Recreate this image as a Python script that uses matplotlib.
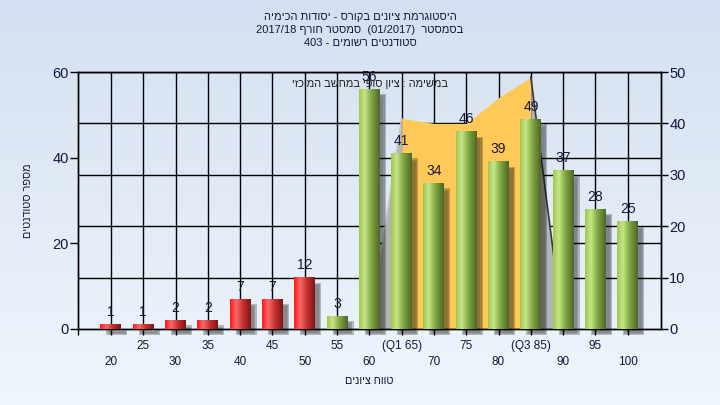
import numpy as np
import matplotlib
matplotlib.use("Agg")
import matplotlib.pyplot as plt
from matplotlib.patches import Rectangle
import matplotlib.transforms as mtransforms

# ---------------- data ----------------
grades = [20, 25, 30, 35, 40, 45, 50, 55, 60, 65, 70, 75, 80, 85, 90, 95, 100]
counts = [1, 1, 2, 2, 7, 7, 12, 3, 56, 41, 34, 46, 39, 49, 37, 28, 25]
tick_labels = ["20", "25", "30", "35", "40", "45", "50", "55", "60", "(Q1 65)",
               "70", "75", "80", "(Q3 85)", "90", "95", "100"]
pass_grade = 55
iqr_grades = [60, 65, 70, 75, 80, 85, 90]
iqr_values = [0, 41, 40, 40, 45, 49, 0]          # right axis scale
left_ticks = [0, 20, 40, 60]
right_ticks = [0, 10, 20, 30, 40, 50]

title_line1 = "היסטוגרמת ציונים בקורס - יסודות הכימיה"
title_l2_a, title_l2_b, title_l2_c, title_l2_d = "בסמסטר", "(01/2017)", "סמסטר חורף", "2017/18"
title_l3_a, title_l3_b = "סטודנטים רשומים", "403"
note_text = "במשימה : ציון סופי במחשב המוכזי"
ylabel_text = "מספר סטודנטים"
xlabel_text = "טווח ציונים"


def rev(s):
    """Hebrew logical -> visual order for left-to-right rendering."""
    return s[::-1]


FONT = ["Liberation Sans", "DejaVu Sans"]
plt.rcParams["font.family"] = FONT
TXT = "#16163c"

W, H = 720, 405
fig = plt.figure(figsize=(W / 100, H / 100), dpi=100)

# background gradient
bg = fig.add_axes([0, 0, 1, 1], zorder=-10)
g = np.linspace(0, 1, 256)[:, None, None]
top_c = np.array([212, 224, 241]) / 255
bot_c = np.array([239, 246, 253]) / 255
bg.imshow(top_c + (bot_c - top_c) * g, aspect="auto", extent=(0, 1, 0, 1))
bg.set_axis_off()

L, R, B, T = 78, 661, 329, 72
pos = [L / W, 1 - B / H, (R - L) / W, (B - T) / H]
ax = fig.add_axes(pos)
ax2 = ax.twinx()
ax.set_zorder(2)
ax2.set_zorder(1)
ax.patch.set_visible(False)
ax2.patch.set_facecolor("#b4b4b4")

x = np.arange(len(grades))
xlim = (-1.02, len(grades) - 1 + 1.03)
ax.set_xlim(*xlim)
ax.set_ylim(0, 60)
ax2.set_ylim(0, 50)

ix = [grades.index(gv) for gv in iqr_grades]

# ---------- ax2 (lower layer): grid, area ----------
ax2.vlines(x, 0, 1, transform=ax2.get_xaxis_transform(), color="black", lw=1, zorder=0.5)
for v in right_ticks[1:]:
    ax2.axhline(v, color="black", lw=1, zorder=0.5)
# primary-axis grid lines (only visible from the IQR series start onwards)
for v in left_ticks[1:-1]:
    ax2.plot([ix[0], xlim[1]], [v, v], transform=mtransforms.blended_transform_factory(
        ax.transData, ax.transData), color="black", lw=1, zorder=0.5)

ax2.fill_between(ix[1:-1], iqr_values[1:-1], 0, color="#ffc957", lw=0, zorder=1)
ax2.fill_between(ix[:2], iqr_values[:2], 0, color="#b4b4b4", lw=0, zorder=1)
ax2.fill_between(ix[-2:], iqr_values[-2:], 0, color="#b4b4b4", lw=0, zorder=1)
ax2.plot(ix[:2], iqr_values[:2], color="#c4c4c4", lw=1, zorder=1.1)
ax2.plot(ix[-2:], iqr_values[-2:], color="#3a3a3a", lw=1.2, zorder=1.1)

# ---------- bars on ax ----------
bw = 0.65
px_x = (xlim[1] - xlim[0]) / (R - L)     # data units per pixel (x)
px_y = 60 / (B - T)                      # data units per pixel (y)

green_stops = [(0.0, (160, 200, 78)), (0.28, (200, 228, 140)), (0.55, (135, 175, 70)),
               (1.0, (78, 102, 40))]
red_stops = [(0.0, (255, 25, 25)), (0.30, (248, 105, 105)), (0.6, (200, 50, 50)),
             (1.0, (130, 20, 20))]


def grad_row(stops, n=64):
    t = np.linspace(0, 1, n)
    pts = [s[0] for s in stops]
    cols = np.array([s[1] for s in stops]) / 255
    row = np.stack([np.interp(t, pts, cols[:, k]) for k in range(3)], axis=-1)
    return row[None, :, :]


grad_g = grad_row(green_stops)
grad_r = grad_row(red_stops)

for xi, (gv, v) in enumerate(zip(grades, counts)):
    # soft shadow
    for k, a in enumerate([0.10, 0.16, 0.24]):
        shrink = (2 - k) * 1.2
        ax.add_patch(Rectangle((xi - bw / 2 + 6 * px_x + shrink * px_x, -6 * px_y + shrink * px_y),
                               bw - 2 * shrink * px_x, v - 2 * shrink * px_y + 1 * px_y,
                               facecolor="black", alpha=a, lw=0, zorder=2, clip_on=False))
    im = grad_r if gv < pass_grade else grad_g
    ax.imshow(im, extent=(xi - bw / 2, xi + bw / 2, 0, v), aspect="auto", zorder=3,
              interpolation="bilinear")
    ax.annotate(str(v), (xi, v), xytext=(0, 9), textcoords="offset points",
                ha="center", va="center", fontsize=10, color=TXT, zorder=5)

ax.set_xlim(*xlim)
ax.set_ylim(0, 60)
ax.set_aspect("auto")

# ---------- axes decoration ----------
for a in (ax, ax2):
    for s in a.spines.values():
        s.set_color("black")
        s.set_linewidth(1)

ax.set_yticks(left_ticks)
ax.tick_params(axis="y", length=5.8, width=1, direction="out", labelsize=10.5,
               labelcolor=TXT, pad=1)
ax2.set_yticks(right_ticks)
ax2.tick_params(axis="y", length=5, width=1, direction="out", labelsize=10.5,
                labelcolor=TXT, pad=1)

even = [i for i in x if i % 2 == 0]
odd = [i for i in x if i % 2 == 1]
ax.set_xticks(even)
ax.set_xticklabels([tick_labels[i] for i in even])
ax.set_xticks([xlim[0]] + odd, minor=True)
ax.set_xticklabels([""] + [tick_labels[i] for i in odd], minor=True)
ax.tick_params(axis="x", which="major", length=4.3, width=1, pad=15, labelsize=8.5,
               labelcolor=TXT)
ax.tick_params(axis="x", which="minor", length=4.3, width=1, pad=3.5, labelsize=8.5,
               labelcolor=TXT)

ax.set_xlabel(rev(xlabel_text), fontsize=7.8, color=TXT, labelpad=6)
ax.set_ylabel(rev(ylabel_text), fontsize=7.8, color=TXT)
ax.yaxis.set_label_coords((33 - L) / (R - L), 0.5)

# note text inside plot
ax.text(0.5, 1 - (84 - T) / (B - T), rev(note_text), transform=ax.transAxes,
        ha="center", va="center", fontsize=7.9, color="#202020", zorder=6)

# title
fig.text(0.5, 1 - 17 / H, rev(title_line1), ha="center", va="center", fontsize=8, color=TXT)
fig.text(0.5, 1 - 30 / H,
         title_l2_d + " " + rev(title_l2_c) + "  " + title_l2_b + "  " + rev(title_l2_a),
         ha="center", va="center", fontsize=8, color=TXT)
fig.text(0.5, 1 - 43 / H, title_l3_b + " - " + rev(title_l3_a),
         ha="center", va="center", fontsize=8, color=TXT)

fig.savefig("out.png", dpi=100)
